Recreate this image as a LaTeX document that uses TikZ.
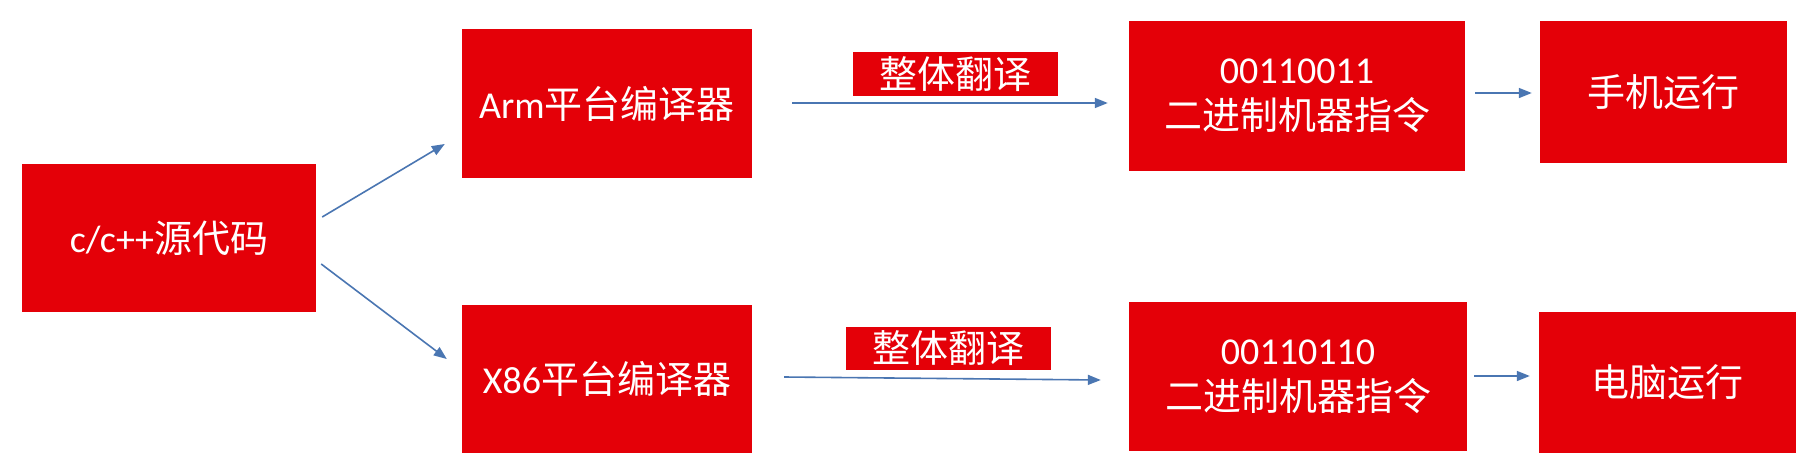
\documentclass[tikz,border=0pt]{standalone}
\usepackage{fontspec}
\setmainfont{Carlito}
\newfontfamily\cjk{Noto Sans CJK SC}
\usetikzlibrary{arrows.meta}
\definecolor{boxred}{RGB}{228,0,8}
\definecolor{arrblue}{RGB}{74,118,178}
\tikzset{
  redbox/.style={fill=boxred, draw=none, text=white, inner sep=0pt, align=center,
    font=\fontsize{38}{46}\selectfont},
  arr/.style={draw=arrblue, line width=1.6pt, -{Triangle[length=13pt,width=10pt]}}
}
\begin{document}
\begin{tikzpicture}[x=1pt,y=-1pt]
\useasboundingbox (0,0) rectangle (1810,474);
\fill[white] (0,0) rectangle (1810,474);
\node[redbox, minimum width=294pt, minimum height=148pt] (src) at (169,238) {c/c++{\cjk 源代码}};
\node[redbox, minimum width=290pt, minimum height=149pt] (arm) at (607,103.5) {Arm{\cjk 平台编译器}};
\node[redbox, minimum width=290pt, minimum height=148pt] (x86) at (607,379) {X86{\cjk 平台编译器}};
\node[redbox, minimum width=205pt, minimum height=44pt] (lab1) at (955.5,74) {\cjk 整体翻译};
\node[redbox, minimum width=205pt, minimum height=43pt] (lab2) at (948.5,348.5) {\cjk 整体翻译};
\node[redbox, minimum width=336pt, minimum height=150pt] (bin1) at (1297,96) {00110011\\{\cjk 二进制机器指令}};
\node[redbox, minimum width=338pt, minimum height=149pt] (bin2) at (1298,376.5) {00110110\\{\cjk 二进制机器指令}};
\node[redbox, minimum width=247pt, minimum height=142pt] (phone) at (1663.5,92) {\cjk 手机运行};
\node[redbox, minimum width=257pt, minimum height=141pt] (pc) at (1667.5,382.5) {\cjk 电脑运行};
\draw[arr] ([shift={(6,-21)}]src.east) -- ([shift={(-17,40.5)}]arm.west);
\draw[arr] ([shift={(5,26)}]src.east) -- ([shift={(-15,-20)}]x86.west);
\draw[arr] ([shift={(40,-0.5)}]arm.east) -- ([shift={(-21,7)}]bin1.west);
\draw[arr] ([shift={(32,-2)}]x86.east) -- ([shift={(-28,3.5)}]bin2.west);
\draw[arr] ([shift={(10,-3)}]bin1.east) -- ([shift={(-8,1)}]phone.west);
\draw[arr] ([shift={(7,-0.5)}]bin2.east) -- ([shift={(-9,-6.5)}]pc.west);
\end{tikzpicture}
\end{document}
